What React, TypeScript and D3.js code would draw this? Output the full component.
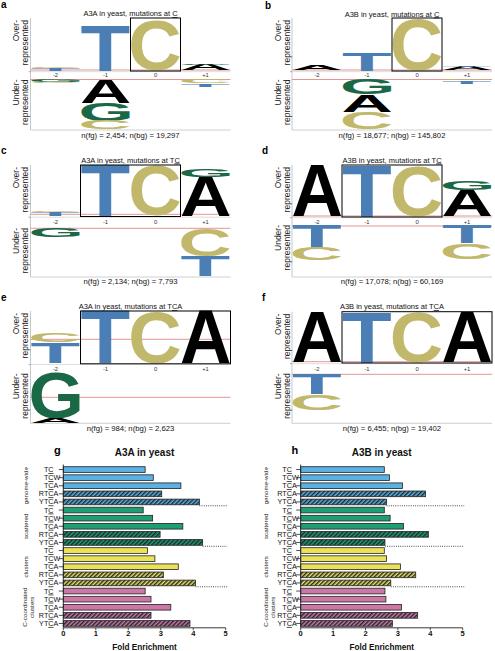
import React from "react";
import * as d3 from "d3";

// ---------------- DATA ----------------
const POSITIONS = ["-2", "-1", "0", "+1"];
type Stack = [string, number][];

// sequence-logo stacks, listed from the axis outward; heights = fraction of region
const A3A_C_OVER: Stack[] = [[["T", 0.05], ["C", 0.02]], [["T", 0.86]], [["C", 0.96]], [["A", 0.11], ["G", 0.03]]];
const A3A_C_UNDER: Stack[] = [[["G", 0.05], ["C", 0.02]], [["A", 0.46], ["G", 0.36], ["C", 0.17]], [], [["C", 0.08], ["T", 0.06]]];
const A3B_C_OVER: Stack[] = [[["A", 0.085]], [["T", 0.34]], [["C", 0.97]], [["A", 0.06], ["T", 0.02]]];
const A3B_C_UNDER: Stack[] = [[], [["G", 0.3], ["A", 0.34], ["C", 0.34]], [], [["C", 0.02], ["T", 0.06]]];
const A3A_TC_OVER: Stack[] = [[["T", 0.07], ["C", 0.03]], [["T", 1.0]], [["C", 0.98]], [["A", 0.77], ["G", 0.16]]];
const A3A_TC_UNDER: Stack[] = [[["G", 0.19]], [], [], [["C", 0.57], ["T", 0.41]]];
const A3B_TC_OVER: Stack[] = [[["A", 1.0]], [["T", 1.0]], [["C", 0.98]], [["A", 0.52], ["G", 0.18]]];
const A3B_TC_UNDER: Stack[] = [[["T", 0.44], ["C", 0.24]], [], [], [["T", 0.35], ["C", 0.3]]];
const A3A_TCA_OVER: Stack[] = [[["T", 0.4], ["C", 0.18]], [["T", 1.0]], [["C", 0.98]], [["A", 1.0]]];
const A3A_TCA_UNDER: Stack[] = [[["G", 0.91], ["A", 0.09]], [], [], []];
const A3B_TCA_OVER: Stack[] = [[["A", 1.0]], [["T", 1.0]], [["C", 0.98]], [["A", 1.0]]];
const A3B_TCA_UNDER: Stack[] = [[["T", 0.42], ["C", 0.31]], [], [], []];

const LOGO_ENZYMES = ["A3A", "A3B", "A3A", "A3B", "A3A", "A3B"];
const LOGO_CONTEXTS = ["C", "C", "TC", "TC", "TCA", "TCA"];
const LOGO_FG = [2454, 18677, 2134, 17078, 984, 6455];
const LOGO_BG = [19297, 145802, 7793, 60169, 2623, 19402];
const LOGO_OVER = [A3A_C_OVER, A3B_C_OVER, A3A_TC_OVER, A3B_TC_OVER, A3A_TCA_OVER, A3B_TCA_OVER];
const LOGO_UNDER = [A3A_C_UNDER, A3B_C_UNDER, A3A_TC_UNDER, A3B_TC_UNDER, A3A_TCA_UNDER, A3B_TCA_UNDER];

const MOTIFS = ["TC", "TCW", "TCA", "RTCA", "YTCA"];
const GROUPS = ["genome-wide", "scattered", "clusters", "C-coordinated|clusters"];
const A3A_FOLD = [
  [2.52, 2.77, 3.62, 3.03, 4.19],
  [2.46, 2.75, 3.68, 2.98, 4.29],
  [2.59, 2.82, 3.54, 3.08, 4.07],
  [2.52, 2.7, 3.31, 2.7, 3.9],
];
const A3B_FOLD = [
  [2.58, 2.74, 3.14, 3.85, 2.65],
  [2.58, 2.76, 3.17, 3.94, 2.6],
  [2.58, 2.65, 3.08, 3.55, 2.78],
  [2.6, 2.63, 3.11, 3.61, 2.83],
];
const X_TICKS = [0, 1, 2, 3, 4, 5];

// ---------------- STYLE / LAYOUT ----------------
const FONT = "'Liberation Sans', Arial, Helvetica, sans-serif";
const LETTER_COLORS: Record<string, string> = { A: "#000000", C: "#c2b86c", G: "#1b6846", T: "#4a7eb4" };
const GROUP_COLORS = ["#5bb1e2", "#1f9e75", "#ebe25a", "#cd77a8"];

const LOGO_LAYOUT = [
  { panel: "a", x0: 30.5, top: 18, base: 70.5, tickY: 77, lowerTop: 79.5, bottom: 130, redUp: 70, redLo: 79.5, titleY: 16, footY: 137.5, lx: 1, ly: 8, box: [2, 2] },
  { panel: "b", x0: 292, top: 18, base: 70.5, tickY: 77, lowerTop: 79.5, bottom: 130, redUp: 70, redLo: 79.5, titleY: 16.5, footY: 137.5, lx: 265, ly: 8.5, box: [2, 2] },
  { panel: "c", x0: 30.5, top: 165, base: 216, tickY: 224, lowerTop: 228, bottom: 277, redUp: 214.3, redLo: 228.3, titleY: 162.5, footY: 284, lx: 1, ly: 153.5, box: [1, 2] },
  { panel: "d", x0: 292, top: 165, base: 216.5, tickY: 224, lowerTop: 225, bottom: 277, redUp: 216, redLo: 226, titleY: 162.5, footY: 284, lx: 262, ly: 154, box: [1, 2] },
  { panel: "e", x0: 30.5, top: 311, base: 363.3, tickY: 371, lowerTop: 373.3, bottom: 423.3, redUp: 339.3, redLo: 397.3, titleY: 309, footY: 431, lx: 1, ly: 300.5, box: [1, 3] },
  { panel: "f", x0: 292, top: 311.7, base: 362.5, tickY: 371, lowerTop: 373.3, bottom: 423.3, redUp: 361.7, redLo: 374.3, titleY: 309, footY: 430.5, lx: 262, ly: 301, box: [1, 3] },
];

const BAR_LAYOUT = [
  { panel: "g", name: "A3A", x0: 63.3, x1: 225.7, cx: 48.3, groupX: 27.5, lx: 54, ly: 453.5 },
  { panel: "h", name: "A3B", x0: 300.7, x1: 462.7, cx: 286.7, groupX: 268, lx: 291.5, ly: 454.3 },
];

// ---------------- GLYPHS ----------------
const GLYPH_PX = 200;
const metricsCache: Record<string, { left: number; right: number; ascent: number; descent: number }> = {};
function glyphMetrics(ch: string) {
  if (metricsCache[ch]) return metricsCache[ch];
  let m: any = null;
  try {
    const c = document.createElement("canvas");
    const ctx = c.getContext("2d")!;
    ctx.font = `bold ${GLYPH_PX}px ${FONT}`;
    const t = ctx.measureText(ch);
    m = { left: t.actualBoundingBoxLeft, right: t.actualBoundingBoxRight, ascent: t.actualBoundingBoxAscent, descent: t.actualBoundingBoxDescent };
  } catch (e) {
    m = null;
  }
  if (!m || !(m.right > 0) || !(m.ascent > 0)) {
    const fb: Record<string, [number, number]> = { A: [0, 0.722], C: [0.045, 0.68], G: [0.045, 0.73], T: [0.02, 0.59] };
    const [l, r] = fb[ch] || [0, 0.7];
    m = { left: -l * GLYPH_PX, right: r * GLYPH_PX, ascent: 0.716 * GLYPH_PX, descent: 0.01 * GLYPH_PX };
  }
  metricsCache[ch] = m;
  return m;
}

function Glyph({ ch, x, y, w, h }: { ch: string; x: number; y: number; w: number; h: number }) {
  if (h <= 0.05 || w <= 0) return null;
  const m = glyphMetrics(ch);
  const iw = m.left + m.right;
  const ih = m.ascent + m.descent;
  return (
    <text
      transform={`translate(${x},${y}) scale(${w / iw},${h / ih})`}
      x={m.left}
      y={m.ascent}
      fontFamily={FONT}
      fontWeight="bold"
      fontSize={GLYPH_PX}
      fill={LETTER_COLORS[ch]}
    >
      {ch}
    </text>
  );
}

function UnderlinedC({ text, ...rest }: any) {
  const i = text.indexOf("C");
  return (
    <text {...rest}>
      {text.slice(0, i)}
      <tspan style={{ textDecoration: "underline" }} textDecoration="underline">C</tspan>
      {text.slice(i + 1)}
    </text>
  );
}

// ---------------- LOGO PANEL ----------------
function LogoPanel({ idx }: { idx: number }) {
  const L = LOGO_LAYOUT[idx];
  const over = LOGO_OVER[idx];
  const under = LOGO_UNDER[idx];
  const x = d3.scaleBand<string>().domain(POSITIONS).range([L.x0, L.x0 + 200]);
  const yUp = d3.scaleLinear().domain([0, 1]).range([L.base, L.top]);
  const yLo = d3.scaleLinear().domain([0, 1]).range([L.lowerTop, L.bottom]);
  const fmt = d3.format(",");
  const pad = 0.8;
  const right = L.x0 + 200;
  const glyphs: React.ReactNode[] = [];
  POSITIONS.forEach((p, pi) => {
    let cum = 0;
    over[pi].forEach(([ch, v], k) => {
      const y0 = yUp(cum + v);
      const y1 = yUp(cum);
      glyphs.push(<Glyph key={`o${pi}-${k}`} ch={ch} x={x(p)! + pad} y={y0} w={x.bandwidth() - 2 * pad} h={y1 - y0} />);
      cum += v;
    });
    cum = 0;
    under[pi].forEach(([ch, v], k) => {
      const y0 = yLo(cum);
      const y1 = yLo(cum + v);
      glyphs.push(<Glyph key={`u${pi}-${k}`} ch={ch} x={x(p)! + pad} y={y0} w={x.bandwidth() - 2 * pad} h={y1 - y0} />);
      cum += v;
    });
  });
  const bx0 = x(POSITIONS[L.box[0]])!;
  const bx1 = x(POSITIONS[L.box[1]])! + x.bandwidth();
  const cx = L.x0 + 100;
  return (
    <g>
      <text x={L.lx} y={L.ly} fontFamily={FONT} fontWeight="bold" fontSize={10} fill="#000">{L.panel}</text>
      <UnderlinedC
        text={`${LOGO_ENZYMES[idx]} in yeast, mutations at ${LOGO_CONTEXTS[idx]}`}
        x={cx}
        y={L.titleY}
        textAnchor="middle"
        fontFamily={FONT}
        fontSize={7.5}
        fill="#111"
      />
      {/* axes */}
      <line x1={L.x0} x2={L.x0} y1={L.top} y2={L.bottom} stroke="#b9b9b9" strokeWidth={0.8} />
      <line x1={L.x0} x2={right} y1={L.bottom} y2={L.bottom} stroke="#c4c4c4" strokeWidth={0.8} />
      <line x1={L.x0} x2={right} y1={L.base + 1.2} y2={L.base + 1.2} stroke="#d4d4d4" strokeWidth={0.8} />
      <line x1={L.x0 - 2} x2={L.x0} y1={L.base + 1.2} y2={L.base + 1.2} stroke="#999" strokeWidth={0.8} />
      {/* significance lines */}
      <line x1={L.x0} x2={right} y1={L.redUp} y2={L.redUp} stroke="#e07a7a" strokeWidth={0.8} />
      <line x1={L.x0} x2={right} y1={L.redLo} y2={L.redLo} stroke="#e07a7a" strokeWidth={0.8} />
      {glyphs}
      <rect x={bx0} y={L.top} width={bx1 - bx0} height={L.base - L.top + 0.5} fill="none" stroke="#000" strokeWidth={1} />
      {POSITIONS.map((p) => (
        <text key={p} x={x(p)! + x.bandwidth() / 2} y={L.tickY} textAnchor="middle" fontFamily={FONT} fontSize={5.8} fill="#333">{p}</text>
      ))}
      {/* y labels */}
      <text transform={`translate(${L.x0 - 11.5},${L.top + 2}) rotate(-90)`} textAnchor="end" fontFamily={FONT} fontSize={8.5} fill="#222">Over-</text>
      <text transform={`translate(${L.x0 - 2.5},${L.top + 2}) rotate(-90)`} textAnchor="end" fontFamily={FONT} fontSize={8.5} fill="#222">represented</text>
      <text transform={`translate(${L.x0 - 11.5},${L.lowerTop}) rotate(-90)`} textAnchor="end" fontFamily={FONT} fontSize={8.5} fill="#222">Under-</text>
      <text transform={`translate(${L.x0 - 2.5},${L.lowerTop}) rotate(-90)`} textAnchor="end" fontFamily={FONT} fontSize={8.5} fill="#222">represented</text>
      <text x={cx} y={L.footY} textAnchor="middle" fontFamily={FONT} fontSize={7.7} fill="#111">
        {`n(fg) = ${fmt(LOGO_FG[idx])}; n(bg) = ${fmt(LOGO_BG[idx])}`}
      </text>
    </g>
  );
}

// ---------------- BAR CHART ----------------
function BarChart({ idx }: { idx: number }) {
  const B = BAR_LAYOUT[idx];
  const values = idx === 0 ? A3A_FOLD : A3B_FOLD;
  const x = d3.scaleLinear().domain([0, 5]).range([B.x0, B.x1]);
  const rows = GROUPS.flatMap((g, gi) => MOTIFS.map((m, mi) => ({ g, gi, m, mi, v: values[gi][mi], key: `${gi}-${mi}` })));
  const y = d3.scaleBand<string>().domain(rows.map((r) => r.key)).range([465.5, 627.5]).paddingInner(0.3).paddingOuter(0.15);
  const bw = y.bandwidth();
  const axisY = 627.8;
  const fs = 7.2;
  return (
    <g>
      <text x={B.lx} y={B.ly} fontFamily={FONT} fontWeight="bold" fontSize={11} fill="#000">{B.panel}</text>
      <text x={(B.x0 + B.x1) / 2} y={455.5} textAnchor="middle" fontFamily={FONT} fontWeight="bold" fontSize={10} fill="#111">{`${B.name} in yeast`}</text>
      {/* dotted group separators */}
      {GROUPS.slice(0, 3).map((g, gi) => {
        const r = rows[gi * 5 + 4];
        const yy = y(r.key)! + bw + 1;
        return <line key={g} x1={x(r.v)} x2={x(5) + 1.5} y1={yy} y2={yy} stroke="#222" strokeWidth={0.9} strokeDasharray="0.9,1.3" />;
      })}
      {rows.map((r) => (
        <rect
          key={r.key}
          x={x(0)}
          y={y(r.key)!}
          width={x(r.v) - x(0)}
          height={bw}
          fill={r.mi >= 3 ? `url(#hatch${r.gi})` : GROUP_COLORS[r.gi]}
          stroke="#222"
          strokeWidth={0.8}
        />
      ))}
      {/* y axis */}
      <line x1={x(0)} x2={x(0)} y1={464.5} y2={axisY} stroke="#222" strokeWidth={0.9} />
      {rows.map((r) => {
        const cy = y(r.key)! + bw / 2;
        const i = r.m.indexOf("C");
        return (
          <g key={`l${r.key}`}>
            <line x1={x(0) - 4.5} x2={x(0)} y1={cy} y2={cy} stroke="#222" strokeWidth={0.8} />
            <text x={B.cx} y={cy + 2.5} textAnchor="end" fontFamily={FONT} fontSize={fs} fill="#111">{r.m.slice(0, i)}</text>
            <text x={B.cx} y={cy + 2.5} textAnchor="start" fontFamily={FONT} fontSize={fs} fill="#111">
              <tspan style={{ textDecoration: "underline" }} textDecoration="underline">C</tspan>
              {r.m.slice(i + 1)}
            </text>
          </g>
        );
      })}
      {/* group labels */}
      {GROUPS.map((g, gi) => {
        const c0 = y(rows[gi * 5].key)!;
        const c1 = y(rows[gi * 5 + 4].key)! + bw;
        const cy = (c0 + c1) / 2;
        const lines = g.split("|");
        return lines.map((ln, li) => (
          <text
            key={`${g}${li}`}
            transform={`translate(${lines.length === 1 ? B.groupX : B.groupX - 0.5 + li * 7},${cy}) rotate(-90)`}
            textAnchor="middle"
            fontFamily={FONT}
            fontSize={6.2}
            fill="#222"
          >
            {ln}
          </text>
        ));
      })}
      {/* x axis */}
      <line x1={x(0)} x2={x(5)} y1={axisY} y2={axisY} stroke="#222" strokeWidth={0.9} />
      {X_TICKS.map((t) => (
        <g key={t}>
          <line x1={x(t)} x2={x(t)} y1={axisY} y2={axisY + 2.5} stroke="#222" strokeWidth={0.8} />
          <text x={x(t)} y={636.2} textAnchor="middle" fontFamily={FONT} fontWeight="bold" fontSize={7.5} fill="#111">{t}</text>
        </g>
      ))}
      <text x={(B.x0 + B.x1) / 2} y={649.8} textAnchor="middle" fontFamily={FONT} fontWeight="bold" fontSize={8.2} fill="#111">Fold Enrichment</text>
    </g>
  );
}

export default function App() {
  return (
    <svg width={495} height={651} viewBox="0 0 495 651" style={{ position: "absolute", left: 0, top: 0, background: "#fff" }}>
      <defs>
        {GROUP_COLORS.map((c, i) => (
          <pattern key={i} id={`hatch${i}`} patternUnits="userSpaceOnUse" width={3} height={3} patternTransform="rotate(45)">
            <rect width={3} height={3} fill={c} />
            <line x1={0.75} x2={0.75} y1={0} y2={3} stroke="#1c2228" strokeWidth={1.4} />
          </pattern>
        ))}
      </defs>
      <rect width={495} height={651} fill="#fff" />
      {LOGO_LAYOUT.map((_, i) => (
        <LogoPanel key={i} idx={i} />
      ))}
      {BAR_LAYOUT.map((_, i) => (
        <BarChart key={i} idx={i} />
      ))}
    </svg>
  );
}
